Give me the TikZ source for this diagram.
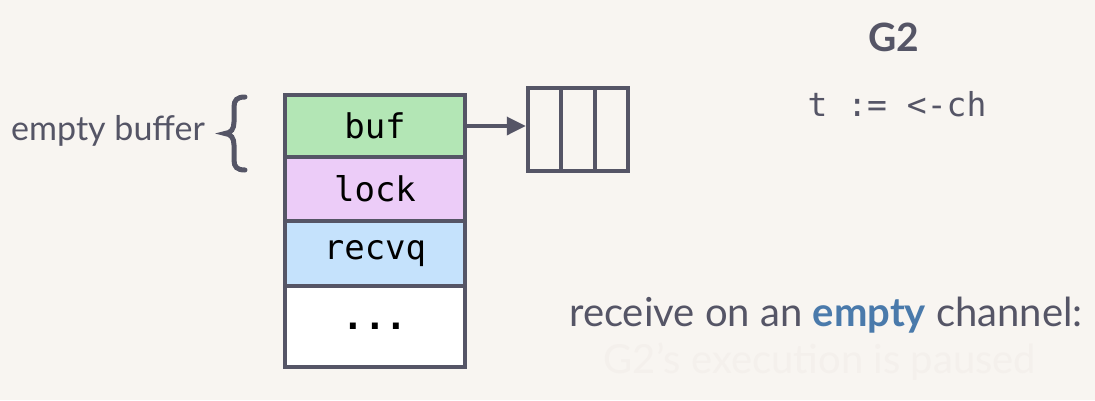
\documentclass[tikz,border=0pt]{standalone}
\usepackage{fontspec}
\setmainfont{Lato}
\setmonofont{DejaVu Sans Mono}
\usetikzlibrary{arrows.meta}
\definecolor{bg}{HTML}{F8F5F1}
\definecolor{edge}{HTML}{555566}
\definecolor{cgreen}{HTML}{B3E6B5}
\definecolor{cpurple}{HTML}{ECCCF8}
\definecolor{cblue}{HTML}{C5E2FC}
\definecolor{txt}{HTML}{555566}
\definecolor{emph}{HTML}{4A7AAB}
\definecolor{faint}{HTML}{F4F0EC}
\tikzset{
  row/.style={draw=edge, line width=4pt, minimum width=180pt, inner sep=0pt,
    font=\fontsize{34}{40}\selectfont\ttfamily, text=black},
  cell/.style={draw=edge, line width=4pt, minimum width=33.5pt, minimum height=83pt, inner sep=0pt},
  label/.style={text=txt, inner sep=0pt},
}
\begin{document}
\begin{tikzpicture}[x=1pt,y=-1pt]
\fill[bg] (0,0) rectangle (1095,400);
\useasboundingbox (0,0) rectangle (1095,400);
% channel struct
\node[row, fill=cgreen, minimum height=62pt] (buf) at (375,126) {buf};
\node[row, fill=cpurple, minimum height=64pt] (lock) at (375,189) {lock};
\node[row, fill=cblue, minimum height=65pt] (recvq) at (375,253.5) {recvq};
\node[row, fill=white, minimum height=81pt, font=\fontsize{36}{40}\selectfont\ttfamily\bfseries] (dots) at (375,326.5) {...};
% buffer cells
\node[cell] (c1) at (544.5,129.5) {};
\node[cell] (c2) at (578,129.5) {};
\node[cell] (c3) at (611.5,129.5) {};
\draw[edge, line width=3.5pt, -{Triangle[length=19pt,width=18pt]}] (buf.east) -- (buf.east -| c1.west);
% left label
\node[label, font=\fontsize{34}{40}\selectfont, anchor=east] (eb) at (205,131) {empty buffer};
\draw[edge, line width=5pt, line cap=round]
  (245,97) .. controls (237,97) and (234,100) .. (234,107) -- (234,122)
  .. controls (234,129) and (231,133) .. (225,133.5)
  .. controls (231,134) and (234,138) .. (234,145) -- (234,160)
  .. controls (234,167) and (237,170) .. (245,170);
% right side
\node[label, font=\fontsize{39}{44}\selectfont\bfseries] (g2) at (894,37) {G2};
\node[label, font=\fontsize{33}{38}\selectfont\ttfamily] (code) at (897,104) {t := <-ch};
\node[label, font=\fontsize{40}{46}\selectfont] (recv) at (826,315) {receive on an \textcolor{emph}{\textbf{empty}} channel:};
\node[label, text=faint, font=\fontsize{40}{46}\selectfont] (paused) at (820,362) {G2's execution is paused};
\end{tikzpicture}
\end{document}
